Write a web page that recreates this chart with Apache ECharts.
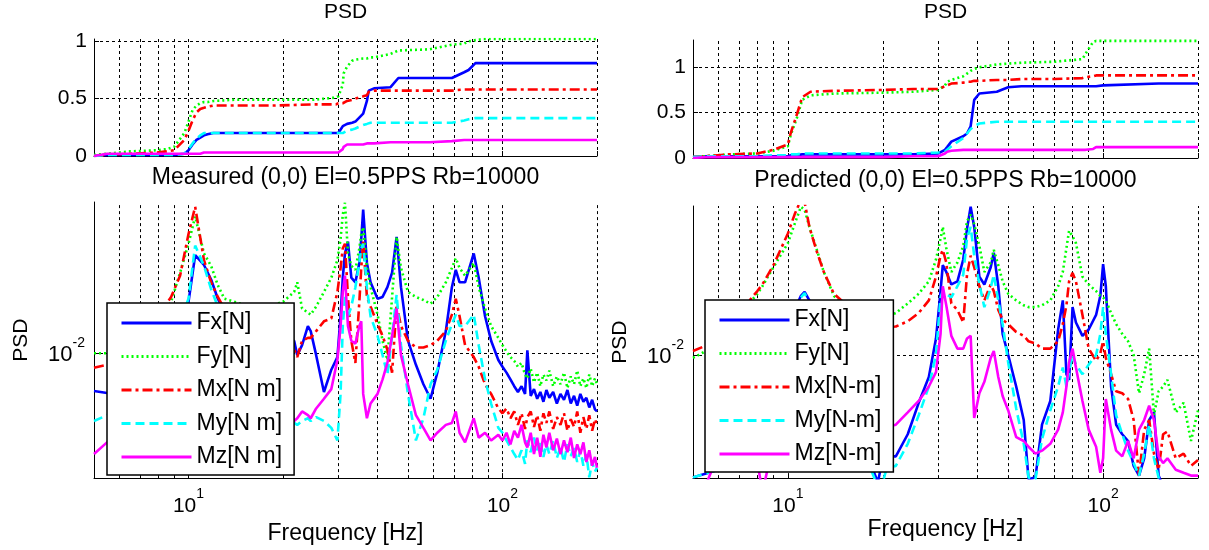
<!DOCTYPE html>
<html><head><meta charset="utf-8">
<script src="https://cdn.jsdelivr.net/npm/echarts@6/dist/echarts.min.js"></script>
<style>html,body{margin:0;padding:0;background:#fff}#c{width:1209px;height:550px}</style>
</head><body><div id="c"></div>
<script>
// ---------- labels ----------
const namesLeft = ['Fx[N]','Fy[N]','Mx[N m]','My[N m]','Mz[N m]'];
const namesRight = ['Fx[N]','Fy[N]','Mx[N-m]','My[N-m]','Mz[N-m]'];
const panelTitles = ['PSD','PSD'];
const subTitles = ['Measured (0,0) El=0.5PPS Rb=10000','Predicted (0,0) El=0.5PPS Rb=10000'];
const xAxisName = 'Frequency [Hz]';
const yAxisName = 'PSD';
const yTicksLinear = [0, 0.5, 1];
const xMajorTicks = [10, 100];
const xMajorExp = ['1', '2'];
const yLogTicks = [0.01];
const yLogExp = ['-2'];
const xGridFreqs = [6,7,8,9,10,20,30,40,50,60,70,80,90,100,200];

// ---------- top-left (measured, cumulative) ----------
const freqTL = [5,5.5,6.5,7.9,8.5,9,9.7,10,10.3,10.6,10.9,11.2,11.5,12,14,18.8,24.9,29.5,30,31,31.2,32,33.2,34,36,37,37.5,38,39,44,46.6,58.6,69,75.5,78,82,87,100,150,200];
const fxTL = [0,0.01,0.01,0.01,0.01,0.01,0.02,0.05,0.1,0.14,0.16,0.18,0.19,0.2,0.2,0.2,0.2,0.2,0.2,0.26,0.27,0.28,0.29,0.3,0.37,0.48,0.57,0.58,0.59,0.6,0.68,0.68,0.68,0.73,0.75,0.81,0.81,0.81,0.81,0.81];
const fyTL = [0.01,0.02,0.04,0.05,0.06,0.08,0.2,0.3,0.4,0.44,0.46,0.47,0.47,0.48,0.49,0.49,0.49,0.51,0.52,0.62,0.72,0.78,0.83,0.84,0.85,0.85,0.86,0.86,0.86,0.89,0.92,0.93,0.97,0.98,1.0,1.01,1.02,1.02,1.02,1.02];
const mxTL = [0,0.01,0.02,0.03,0.04,0.05,0.14,0.22,0.31,0.38,0.41,0.42,0.43,0.44,0.44,0.44,0.45,0.45,0.46,0.46,0.47,0.48,0.49,0.5,0.52,0.53,0.56,0.57,0.57,0.57,0.57,0.57,0.57,0.58,0.58,0.58,0.58,0.58,0.58,0.58];
const myTL = [0,0.01,0.01,0.01,0.01,0.01,0.02,0.06,0.11,0.15,0.18,0.2,0.2,0.2,0.2,0.2,0.2,0.2,0.2,0.2,0.21,0.22,0.23,0.24,0.27,0.28,0.29,0.29,0.29,0.29,0.29,0.29,0.29,0.31,0.32,0.33,0.33,0.33,0.33,0.33];
const mzTL = [0,0.02,0.02,0.02,0.02,0.02,0.02,0.02,0.02,0.02,0.02,0.03,0.03,0.03,0.03,0.03,0.03,0.03,0.03,0.06,0.08,0.1,0.1,0.1,0.1,0.11,0.11,0.11,0.11,0.12,0.12,0.12,0.13,0.14,0.14,0.14,0.14,0.14,0.14,0.14];

// ---------- bottom-left (measured PSD) ----------
const freqBL = [5,5.5,6,7,8,8.8,9.4,10,10.5,11.2,11.8,12.4,13,15,18,20,21.7,22.2,23,24,24.5,25.5,27,28.5,29.8,30.5,31,31.5,32.2,33,34,35,35.5,36,37,38,40,41.5,43,44.5,46,47.5,50,53,56,59,62,66,69,71,73,76,81,84,88,92,97,
 100,103,106,109,112,115,118,120,123,126,129,132,135,138,141,145,149,153,157,161,165,169,173,177,181,185,189,193,197,200];
const fxBL = [0.00638,0.00624,0.00617,0.00617,0.00653,0.00776,0.0110,0.0184,0.0320,0.0285,
 0.0240,0.0191,0.0164,0.0123,0.0110,0.0116,0.0116,0.00977,0.0110,0.0138,
 0.0130,0.00977,0.00631,0.00822,0.00955,0.0155,0.0245,0.0327,0.0376,0.0245,
 0.0232,0.0292,0.0389,0.0550,0.0292,0.0232,0.0191,0.0195,0.0219,0.0260,
 0.0398,0.0219,0.0116,0.00871,0.00692,0.00582,0.00794,0.0130,0.0219,0.0269,
 0.0232,0.0232,0.0327,0.0245,0.0155,0.0116,0.00923,
 0.00851,0.00794,0.00733,0.00676,0.00631,0.00676,0.00617,0.01035,0.00603,0.00653,
 0.00582,0.00631,0.00562,0.00646,0.00589,0.00631,0.00550,0.00617,0.00575,0.00646,
 0.00550,0.00603,0.00537,0.00617,0.00562,0.00589,0.00525,0.00575,0.00513,0.00501];
const fyBL = [0.0100,0.0100,0.01035,0.01161,0.01462,0.01841,0.0260,0.0367,0.0507,0.0327,
 0.0282,0.0224,0.0191,0.0178,0.0174,0.0184,0.0207,0.0232,0.0170,0.0162,
 0.0158,0.0174,0.0207,0.0245,0.0302,0.0389,0.0519,0.0596,0.0327,0.0282,
 0.0269,0.0347,0.0412,0.0447,0.0275,0.0219,0.0158,0.0116,0.00923,0.0195,
 0.0398,0.0275,0.0207,0.0195,0.0188,0.0180,0.0195,0.0232,0.0275,0.0309,
 0.0275,0.0251,0.0292,0.0219,0.0170,0.0138,0.0120,
 0.0110,0.0102,0.00955,0.00912,0.00851,0.00891,0.00776,0.00741,0.00832,0.00708,
 0.00794,0.00676,0.00776,0.00724,0.00813,0.00676,0.00759,0.00692,0.00794,0.00661,
 0.00759,0.00692,0.00813,0.00676,0.00741,0.00661,0.00776,0.00676,0.00741,0.00692];
const mxBL = [0.00841,0.00871,0.00923,0.0110,0.0155,0.0195,0.0251,0.0412,0.0569,0.0302,
 0.0232,0.0195,0.0170,0.0138,0.0116,0.0110,0.0104,0.00955,0.0116,0.0120,
 0.0120,0.0130,0.0146,0.0151,0.0207,0.0275,0.0347,0.0367,0.0195,0.0116,
 0.00891,0.0184,0.0275,0.0380,0.0195,0.0174,0.0141,0.0123,0.0104,0.00794,
 0.0178,0.0138,0.0116,0.0107,0.0107,0.0110,0.0116,0.0130,0.0158,0.0191,
 0.0155,0.0110,0.00955,0.00851,0.00692,0.00617,0.00519,
 0.00490,0.00519,0.00462,0.00501,0.00427,0.00490,0.00407,0.00468,0.00501,0.00417,
 0.00479,0.00398,0.00490,0.00437,0.00501,0.00407,0.00468,0.00427,0.00490,0.00398,
 0.00457,0.00417,0.00501,0.00389,0.00468,0.00407,0.00479,0.00398,0.00457,0.00427];
const myBL = [0.00447,0.00479,0.00519,0.00653,0.00871,0.0116,0.0146,0.0191,0.0359,0.0282,
 0.0214,0.0174,0.0138,0.00776,0.00550,0.00490,0.00437,0.00427,0.00447,0.00462,
 0.00447,0.00468,0.00447,0.00412,0.00355,0.00617,0.0138,0.0195,0.0155,0.0174,
 0.0219,0.0292,0.0347,0.0367,0.0219,0.0155,0.0123,0.00977,0.00776,0.0123,
 0.0200,0.0110,0.00617,0.00355,0.00462,0.00692,0.00822,0.0116,0.0141,0.0158,
 0.0138,0.0138,0.0158,0.0110,0.00733,0.00550,0.00412,
 0.00389,0.00355,0.00327,0.00302,0.00282,0.00316,0.00269,0.00355,0.00309,0.00367,
 0.00316,0.00355,0.00292,0.00339,0.00302,0.00355,0.00288,0.00327,0.00275,0.00339,
 0.00295,0.00324,0.00275,0.00316,0.00263,0.00302,0.00229,0.00275,0.00245,0.00257];
const mzBL = [0.00302,0.00347,0.00367,0.00389,0.00412,0.00437,0.00462,0.00490,0.00519,0.00490,
 0.00462,0.00437,0.00427,0.00412,0.00437,0.00447,0.00447,0.00462,0.00501,0.00479,
 0.00462,0.00519,0.00582,0.00653,0.00923,0.0138,0.0207,0.0251,0.0138,0.0116,
 0.0112,0.0138,0.0146,0.00617,0.00462,0.00550,0.00617,0.00733,0.00891,0.0123,
 0.0170,0.00977,0.00692,0.00479,0.00412,0.00355,0.00389,0.00427,0.00437,0.00501,
 0.00389,0.00347,0.00462,0.00367,0.00389,0.00355,0.00380,
 0.00355,0.00389,0.00339,0.00398,0.00367,0.00427,0.00347,0.00327,0.00389,0.00302,
 0.00367,0.00292,0.00380,0.00327,0.00389,0.00316,0.00363,0.00302,0.00355,0.00309,
 0.00367,0.00288,0.00339,0.00302,0.00347,0.00275,0.00316,0.00263,0.00292,0.00257];

// ---------- top-right (predicted, cumulative) ----------
const freqTR = [5,5.5,6.5,8,9,10,10.2,10.7,11.1,11.8,14,20,25,30,31.5,32,33,36,37,38,39,40.5,41,46,50,55,70,86,88,93,95,100,101,150,200];
const fxTR = [0.01,0.02,0.02,0.02,0.02,0.02,0.03,0.03,0.04,0.04,0.04,0.04,0.04,0.05,0.09,0.12,0.18,0.24,0.27,0.35,0.64,0.71,0.72,0.73,0.78,0.79,0.79,0.79,0.79,0.79,0.79,0.8,0.82,0.82,0.82];
const fyTR = [0.01,0.02,0.04,0.05,0.08,0.13,0.25,0.45,0.64,0.69,0.71,0.72,0.73,0.75,0.8,0.84,0.86,0.9,0.93,0.96,0.98,1.0,1.01,1.03,1.04,1.05,1.06,1.09,1.15,1.28,1.29,1.29,1.29,1.29,1.29];
const mxTR = [0.01,0.02,0.04,0.05,0.09,0.15,0.27,0.49,0.67,0.73,0.74,0.75,0.76,0.76,0.79,0.8,0.82,0.83,0.84,0.84,0.85,0.85,0.85,0.86,0.86,0.87,0.87,0.88,0.89,0.9,0.91,0.91,0.91,0.91,0.91];
const myTR = [0.01,0.02,0.02,0.02,0.03,0.03,0.04,0.04,0.05,0.05,0.05,0.05,0.05,0.06,0.07,0.09,0.13,0.22,0.27,0.32,0.35,0.38,0.39,0.4,0.4,0.4,0.4,0.4,0.4,0.4,0.4,0.4,0.4,0.4,0.4];
const mzTR = [0,0.01,0.01,0.01,0.01,0.01,0.01,0.01,0.01,0.01,0.01,0.01,0.02,0.02,0.05,0.07,0.08,0.09,0.09,0.09,0.09,0.09,0.09,0.09,0.09,0.09,0.09,0.09,0.09,0.1,0.12,0.12,0.12,0.12,0.12];

// ---------- bottom-right (predicted PSD) ----------
const freqBR = [5,5.5,6,7,8,8.3,9,10,10.5,11,11.3,11.7,12.3,13,14,16,18,19.3,20,20.6,22,24,26,28,29.5,30.5,31,31.8,33,34.5,36,37,38,39,40.5,42,44,45,46.5,48,50,53,56,58,61,64,68,72,74.5,76.5,78,80,82,86,90,95,98,100,102,106,110,115,120,125,130,135,140,145,150,155,160,170,180,190,200];
const fxBR = [0.00229,0.00240,0.00251,0.00288,0.00385,0.00457,0.00724,0.0129,0.0172,0.0204,
 0.0214,0.0193,0.0145,0.0102,0.00724,0.00457,0.00288,0.00216,0.00288,0.00295,
 0.00295,0.00385,0.00562,0.00767,0.0122,0.0216,0.0295,0.0272,0.0234,0.0243,
 0.0316,0.0457,0.0596,0.0468,0.0257,0.0234,0.0288,0.0343,0.0229,0.0129,
 0.0100,0.00684,0.00457,0.00224,0.00229,0.00432,0.00575,0.0136,0.0193,0.00794,
 0.00741,0.0178,0.0148,0.0126,0.0136,0.0162,0.0204,0.0299,0.0229,0.00684,
 0.00432,0.00385,0.00355,0.00263,0.00234,0.00288,0.00457,0.00501,0.00234,0.00204,
 0.0018,0.0018,0.0018,0.0018,0.0018];
const fyBR = [0.00966,0.0105,0.0122,0.0162,0.0209,0.0229,0.0288,0.0385,0.0484,0.0596,
 0.0575,0.0468,0.0363,0.0272,0.0204,0.0162,0.0153,0.0153,0.0157,0.0158,
 0.0166,0.0186,0.0209,0.0243,0.0316,0.0407,0.0468,0.0363,0.0272,0.0305,
 0.0372,0.0501,0.0543,0.0484,0.0372,0.0272,0.0305,0.0355,0.0295,0.0243,
 0.0209,0.0193,0.0182,0.0178,0.0178,0.0182,0.0193,0.0229,0.0272,0.0363,
 0.0447,0.0417,0.0385,0.0257,0.0234,0.0216,0.0204,0.0200,0.0193,0.0166,
 0.0145,0.0129,0.0118,0.0100,0.00631,0.00794,0.0108,0.00484,0.00646,0.00684,
 0.00741,0.00501,0.00562,0.00355,0.00513];
const mxBR = [0.0105,0.0112,0.0129,0.0166,0.0216,0.0234,0.0295,0.0432,0.0543,0.065,
 0.063,0.0468,0.0355,0.0272,0.0209,0.0172,0.0153,0.0145,0.0141,0.0140,
 0.0141,0.0150,0.0166,0.0193,0.0257,0.0331,0.0355,0.0305,0.0186,0.0172,
 0.0148,0.0263,0.0331,0.0288,0.0229,0.0193,0.0234,0.0216,0.0172,0.0153,
 0.0145,0.0132,0.0126,0.0118,0.0115,0.0108,0.0108,0.0118,0.0145,0.0182,
 0.0243,0.0269,0.0243,0.0162,0.0108,0.00933,0.0102,0.0118,0.00966,0.00794,
 0.00646,0.00631,0.00589,0.00457,0.00234,0.00407,0.00457,0.00305,0.00251,0.00385,
 0.00398,0.00288,0.00305,0.00263,0.00282];
const myBR = [0.00229,0.00240,0.00251,0.00288,0.00385,0.00457,0.00708,0.0126,0.0166,0.0200,
 0.0211,0.0186,0.0136,0.0100,0.00708,0.00447,0.00272,0.00204,0.00216,0.00257,
 0.00263,0.00343,0.00484,0.00684,0.0100,0.0200,0.0216,0.0209,0.0200,0.0229,
 0.0263,0.0407,0.0468,0.0331,0.0234,0.0178,0.0224,0.0263,0.0193,0.0145,
 0.00912,0.00525,0.00343,0.00229,0.00224,0.00363,0.00513,0.00684,0.00861,0.00684,
 0.00813,0.0100,0.00891,0.00794,0.00891,0.0100,0.0129,0.0178,0.0129,0.00794,
 0.00484,0.00385,0.00316,0.00272,0.00234,0.00305,0.00432,0.00288,0.00229,0.0018,
 0.0018,0.0018,0.0018,0.0018,0.0018];
const mzBR = [0.0018,0.0021,0.0030,0.0035,0.0028,0.0019,0.0035,0.0060,0.0075,0.0085,
 0.0090,0.0080,0.0065,0.0055,0.0048,0.0042,0.0040,0.0040,0.0041,0.0042,
 0.00432,0.00501,0.00575,0.00684,0.00813,0.0129,0.0229,0.0182,0.0126,0.0108,
 0.0108,0.0122,0.0126,0.00468,0.00631,0.00724,0.00966,0.0105,0.00767,0.00610,
 0.00513,0.00372,0.00355,0.00331,0.00305,0.00316,0.00343,0.00407,0.00501,0.00684,
 0.00912,0.0108,0.00861,0.00575,0.00407,0.00331,0.00242,0.00288,0.00589,0.00407,
 0.00316,0.00295,0.00355,0.00288,0.00407,0.00457,0.00543,0.00457,0.00295,0.00272,
 0.00288,0.00251,0.00242,0.00234,0.00234];

// ---------- styling ----------
const FONT = '"Liberation Sans", Arial, Helvetica, sans-serif';
const colors = ['#0000ff','#00ff00','#ff0000','#00ffff','#ff00ff'];
const dashes = ['solid',[2,3],[10,4,3,4],[9,5],'solid'];
const BLACK = '#000';

const chart = echarts.init(document.getElementById('c'));

function gridMarks(yVals){
  const d = xGridFreqs.map(f => ({xAxis: f}));
  yVals.forEach(v => d.push({yAxis: v}));
  return {silent:true, symbol:['none','none'], z:1, animation:false,
    label:{show:false}, emphasis:{disabled:true},
    lineStyle:{color:BLACK, width:1, type:[3,3], opacity:1}, data:d};
}

function makeSeries(idx, freq, arrs, names, yMarks){
  return arrs.map((vals, k) => {
    const s = {
      type:'line', name:names[k], xAxisIndex:idx, yAxisIndex:idx,
      data: freq.map((f,i) => [f, vals[i]]),
      symbol:'none', showSymbol:false, clip:true, z:3,
      lineStyle:{color:colors[k], width:2.6, type:dashes[k]},
      itemStyle:{color:colors[k]},
      emphasis:{disabled:true}, animation:false
    };
    if (k === 0) s.markLine = gridMarks(yMarks);
    return s;
  });
}

const txt = {color:BLACK, fontFamily:FONT};
function xAxisCfg(idx, showLabels){
  const a = {
    type:'log', logBase:10, min:5, max:200, gridIndex:idx,
    axisLine:{show:true, onZero:false, lineStyle:{color:BLACK, width:1}},
    axisTick:{show:true, inside:true, length:5, lineStyle:{color:BLACK}},
    splitLine:{show:false},
    axisLabel:{show:showLabels, showMinLabel:false, showMaxLabel:false, margin:9,
      formatter: v => { const j = xMajorTicks.findIndex(t => Math.abs(t - v) < 1e-6 * t); return j >= 0 ? '{b|10}{s|' + xMajorExp[j] + '}' : ''; },
      rich:{ b:{...txt, fontSize:21, lineHeight:30, verticalAlign:'bottom'}, s:{...txt, fontSize:14, lineHeight:30, verticalAlign:'top'} } }
  };
  if (showLabels){
    a.name = xAxisName; a.nameLocation = 'middle'; a.nameGap = 17;
    a.nameTextStyle = {...txt, fontSize:23};
  }
  return a;
}
function yLinCfg(idx, max){
  return {
    type:'value', min:0, max:max, interval:0.5, gridIndex:idx,
    axisLine:{show:true, lineStyle:{color:BLACK, width:1}},
    axisTick:{show:true, inside:true, length:5, lineStyle:{color:BLACK}},
    splitLine:{show:false},
    axisLabel:{...txt, fontSize:21, margin:7, showMaxLabel:false,
      formatter: v => yTicksLinear.includes(v) ? String(v) : ''}
  };
}
function yLogCfg(idx){
  return {
    type:'log', logBase:10, min:0.00227, max:0.0602, gridIndex:idx,
    axisLine:{show:true, lineStyle:{color:BLACK, width:1}},
    axisTick:{show:true, inside:true, length:5, lineStyle:{color:BLACK}},
    splitLine:{show:false},
    axisLabel:{showMinLabel:false, showMaxLabel:false, margin:9, padding:[0,0,4,0],
      formatter: v => { const j = yLogTicks.findIndex(t => Math.abs(t - v) < 1e-6); return j >= 0 ? '{b|10}{s|' + yLogExp[j] + '}' : ''; },
      rich:{ b:{...txt, fontSize:22, lineHeight:30, verticalAlign:'bottom'}, s:{...txt, fontSize:14, lineHeight:30, verticalAlign:'top'} } },
    name:yAxisName, nameLocation:'middle', nameGap:62, nameRotate:90,
    nameTextStyle:{...txt, fontSize:21}
  };
}
function legendCfg(names, left, top){
  return {
    data:names, orient:'vertical', left:left, top:top, selectedMode:false,
    itemWidth:70, itemHeight:14, itemGap:9.5, padding:[8,12,6,13],
    backgroundColor:'#fff', borderColor:BLACK, borderWidth:1.5,
    itemStyle:{opacity:0},
    lineStyle:{width:3},
    textStyle:{...txt, fontSize:23, lineHeight:24}
  };
}
function titleCfg(text, cx, top, size){
  return {text:text, left:cx, top:top, textAlign:'center', padding:0,
    textStyle:{...txt, fontSize:size, fontWeight:'normal'}};
}

const option = {
  backgroundColor:'#fff',
  animation:false,
  title:[
    titleCfg(panelTitles[0], 345.5, 2, 21), titleCfg(subTitles[0], 345.5, 166, 23),
    titleCfg(panelTitles[1], 945.5, 2, 21), titleCfg(subTitles[1], 945.5, 169, 23)
  ],
  legend:[ legendCfg(namesLeft, 107, 303), legendCfg(namesRight, 705, 300) ],
  grid:[
    {left:94, right:612, top:39, bottom:394},
    {left:94, right:612, top:202, bottom:63},
    {left:693, right:11, top:40, bottom:392},
    {left:693, right:11, top:206, bottom:60}
  ],
  xAxis:[ xAxisCfg(0,false), xAxisCfg(1,true), xAxisCfg(2,false), xAxisCfg(3,true) ],
  yAxis:[ yLinCfg(0,1.02), yLogCfg(1), yLinCfg(2,1.3), yLogCfg(3) ],
  series:[].concat(
    makeSeries(0, freqTL, [fxTL,fyTL,mxTL,myTL,mzTL], namesLeft, [0.5,1]),
    makeSeries(1, freqBL, [fxBL,fyBL,mxBL,myBL,mzBL], namesLeft, yLogTicks),
    makeSeries(2, freqTR, [fxTR,fyTR,mxTR,myTR,mzTR], namesRight, [0.5,1]),
    makeSeries(3, freqBR, [fxBR,fyBR,mxBR,myBR,mzBR], namesRight, yLogTicks)
  )
};
chart.setOption(option);
</script>
</body></html>
